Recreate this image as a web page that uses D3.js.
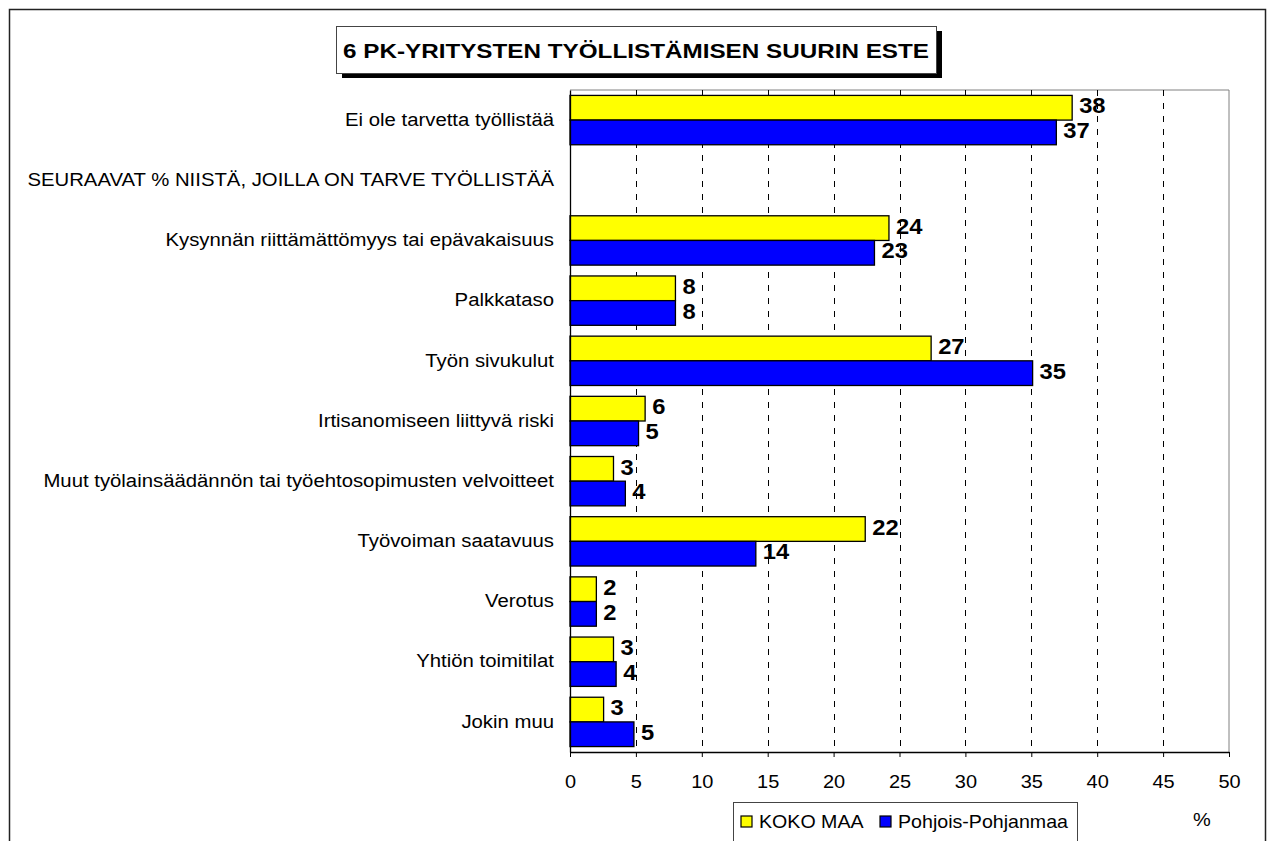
<!DOCTYPE html>
<html>
<head>
<meta charset="utf-8">
<script src="https://cdn.jsdelivr.net/npm/d3@7"></script>
<style>
  body { margin: 0; background: #fff; }
  svg { display: block; font-family: "Liberation Sans", Arial, sans-serif; }
</style>
</head>
<body>
<svg id="chart" width="1271" height="841"></svg>
<script>

// Data

const title = "6 PK-YRITYSTEN TYÖLLISTÄMISEN SUURIN ESTE";

const categories = [
    "Ei ole tarvetta työllistää",
    "SEURAAVAT % NIISTÄ, JOILLA ON TARVE TYÖLLISTÄÄ",
    "Kysynnän riittämättömyys tai epävakaisuus",
    "Palkkataso",
    "Työn sivukulut",
    "Irtisanomiseen liittyvä riski",
    "Muut työlainsäädännön tai työehtosopimusten velvoitteet",
    "Työvoiman saatavuus",
    "Verotus",
    "Yhtiön toimitilat",
    "Jokin muu"
];

const kokoMaa = [38.1, null, 24.2, 8.0, 27.4, 5.7, 3.3, 22.4, 2.0, 3.3, 2.55];
const pohjoisPohjanmaa = [36.9, null, 23.1, 8.0, 35.1, 5.2, 4.2, 14.1, 2.0, 3.5, 4.85];

const seriesNames = ["KOKO MAA", "Pohjois-Pohjanmaa"];
const seriesColors = ["#ffff00", "#0000ff"];

const xTicks = [0, 5, 10, 15, 20, 25, 30, 35, 40, 45, 50];
const unitLabel = "%";


// the original text is a little wider than Liberation Sans at the same height
const stretch = 1.11;
const labelStretch = 1.13;
const fontSize = 18;

let svg = d3.select("#chart");

// outer frame
svg.append("rect")
    .attr("x", 9.5).attr("y", 9.5)
    .attr("width", 1256).attr("height", 860)
    .attr("fill", "none")
    .attr("stroke", "#222")
    .attr("stroke-width", 1.5);

// plot area
let plot = { left: 570, right: 1229, top: 90, bottom: 752 };

let x = d3.scaleLinear()
    .domain([0, 50])
    .range([plot.left, plot.right]);

let y = d3.scaleBand()
    .domain(categories)
    .range([plot.top, plot.bottom])
    .paddingInner(0.18)
    .paddingOuter(0.09);

let ySub = d3.scaleBand()
    .domain(seriesNames)
    .range([0, y.bandwidth()]);

// plot border (grey top/right)
svg.append("path")
    .attr("d", `M${plot.left},${plot.top}H${plot.right}V${plot.bottom}`)
    .attr("fill", "none")
    .attr("stroke", "#808080")
    .attr("stroke-width", 1);

// dashed gridlines
svg.append("g")
    .selectAll("line")
    .data(xTicks.filter(t => t > 0 && t < 50))
    .join("line")
    .attr("x1", d => Math.round(x(d)) + 0.5)
    .attr("x2", d => Math.round(x(d)) + 0.5)
    .attr("y1", plot.top)
    .attr("y2", plot.bottom)
    .attr("stroke", "#000")
    .attr("stroke-width", 1)
    .attr("stroke-dasharray", "6,7");

// bars
let rows = categories.map((c, i) => ({
    category: c,
    values: [kokoMaa[i], pohjoisPohjanmaa[i]]
}));

let fmt = d3.format(".0f");

let groups = svg.append("g")
    .selectAll("g")
    .data(rows)
    .join("g")
    .attr("transform", d => `translate(0,${y(d.category)})`);

let cells = groups.selectAll("g")
    .data(d => d.values.map((v, j) => ({ series: seriesNames[j], color: seriesColors[j], value: v })).filter(e => e.value != null))
    .join("g");

cells.append("rect")
    .attr("x", x(0))
    .attr("y", d => ySub(d.series))
    .attr("width", d => x(d.value) - x(0))
    .attr("height", ySub.bandwidth())
    .attr("fill", d => d.color)
    .attr("stroke", "#000")
    .attr("stroke-width", 1.3);

cells.append("text")
    .attr("transform", d => `translate(${x(d.value) + 7},${ySub(d.series) + ySub.bandwidth() / 2 - 2}) scale(1.08,1)`)
    .attr("dominant-baseline", "central")
    .attr("font-size", 22)
    .attr("font-weight", "bold")
    .text(d => fmt(d.value));

// x axis
let xAxis = svg.append("g")
    .attr("transform", `translate(0,${plot.bottom})`)
    .call(d3.axisBottom(x).tickValues(xTicks).tickSize(5).tickSizeOuter(0).tickPadding(18));

xAxis.select(".domain").attr("stroke", "#000").attr("stroke-width", 1.3);
xAxis.selectAll(".tick line").attr("stroke", "#000");
xAxis.selectAll(".tick text")
    .attr("font-size", fontSize)
    .attr("font-family", "Liberation Sans, Arial, sans-serif")
    .attr("fill", "#000")
    .attr("transform", `scale(${stretch},1)`);

// y axis (line only, category names)
let yPad = 16;
let yAxis = svg.append("g")
    .attr("transform", `translate(${plot.left},0)`)
    .call(d3.axisLeft(y).tickSize(0).tickPadding(yPad));

yAxis.select(".domain").attr("stroke", "#000").attr("stroke-width", 1.3);
yAxis.selectAll(".tick text")
    .attr("font-size", fontSize)
    .attr("font-family", "Liberation Sans, Arial, sans-serif")
    .attr("fill", "#000")
    .attr("x", -yPad / labelStretch)
    .attr("transform", `scale(${labelStretch},1)`);

// title box with shadow
let tb = { x: 336, y: 26, w: 600, h: 47 };

svg.append("rect")
    .attr("x", tb.x + 6).attr("y", tb.y + 5)
    .attr("width", tb.w).attr("height", tb.h)
    .attr("fill", "#000");

svg.append("rect")
    .attr("x", tb.x + 0.5).attr("y", tb.y + 0.5)
    .attr("width", tb.w).attr("height", tb.h)
    .attr("fill", "#fff")
    .attr("stroke", "#444")
    .attr("stroke-width", 1);

svg.append("text")
    .attr("x", tb.x + 7)
    .attr("y", tb.y + tb.h / 2 + 1)
    .attr("dominant-baseline", "central")
    .attr("font-size", 20)
    .attr("font-weight", "bold")
    .attr("textLength", 586)
    .attr("lengthAdjust", "spacingAndGlyphs")
    .text(title);

// legend
let legend = svg.append("g").attr("transform", "translate(733,802)");

legend.append("rect")
    .attr("x", 0.5).attr("y", 0.5)
    .attr("width", 344).attr("height", 60)
    .attr("fill", "#fff")
    .attr("stroke", "#444");

let legendX = [8, 147];

let items = legend.selectAll("g.item")
    .data(seriesNames)
    .join("g")
    .attr("class", "item")
    .attr("transform", (d, i) => `translate(${legendX[i]},14)`);

items.append("rect")
    .attr("width", 11).attr("height", 11)
    .attr("fill", (d, i) => seriesColors[i])
    .attr("stroke", "#000")
    .attr("stroke-width", 1.2);

items.append("text")
    .attr("transform", `translate(18,6) scale(1.09,1)`)
    .attr("dominant-baseline", "central")
    .attr("font-size", fontSize)
    .text(d => d);

svg.append("text")
    .attr("transform", `translate(1202,820) scale(${stretch},1)`)
    .attr("text-anchor", "middle")
    .attr("dominant-baseline", "central")
    .attr("font-size", fontSize)
    .text(unitLabel);

</script>
</body>
</html>
